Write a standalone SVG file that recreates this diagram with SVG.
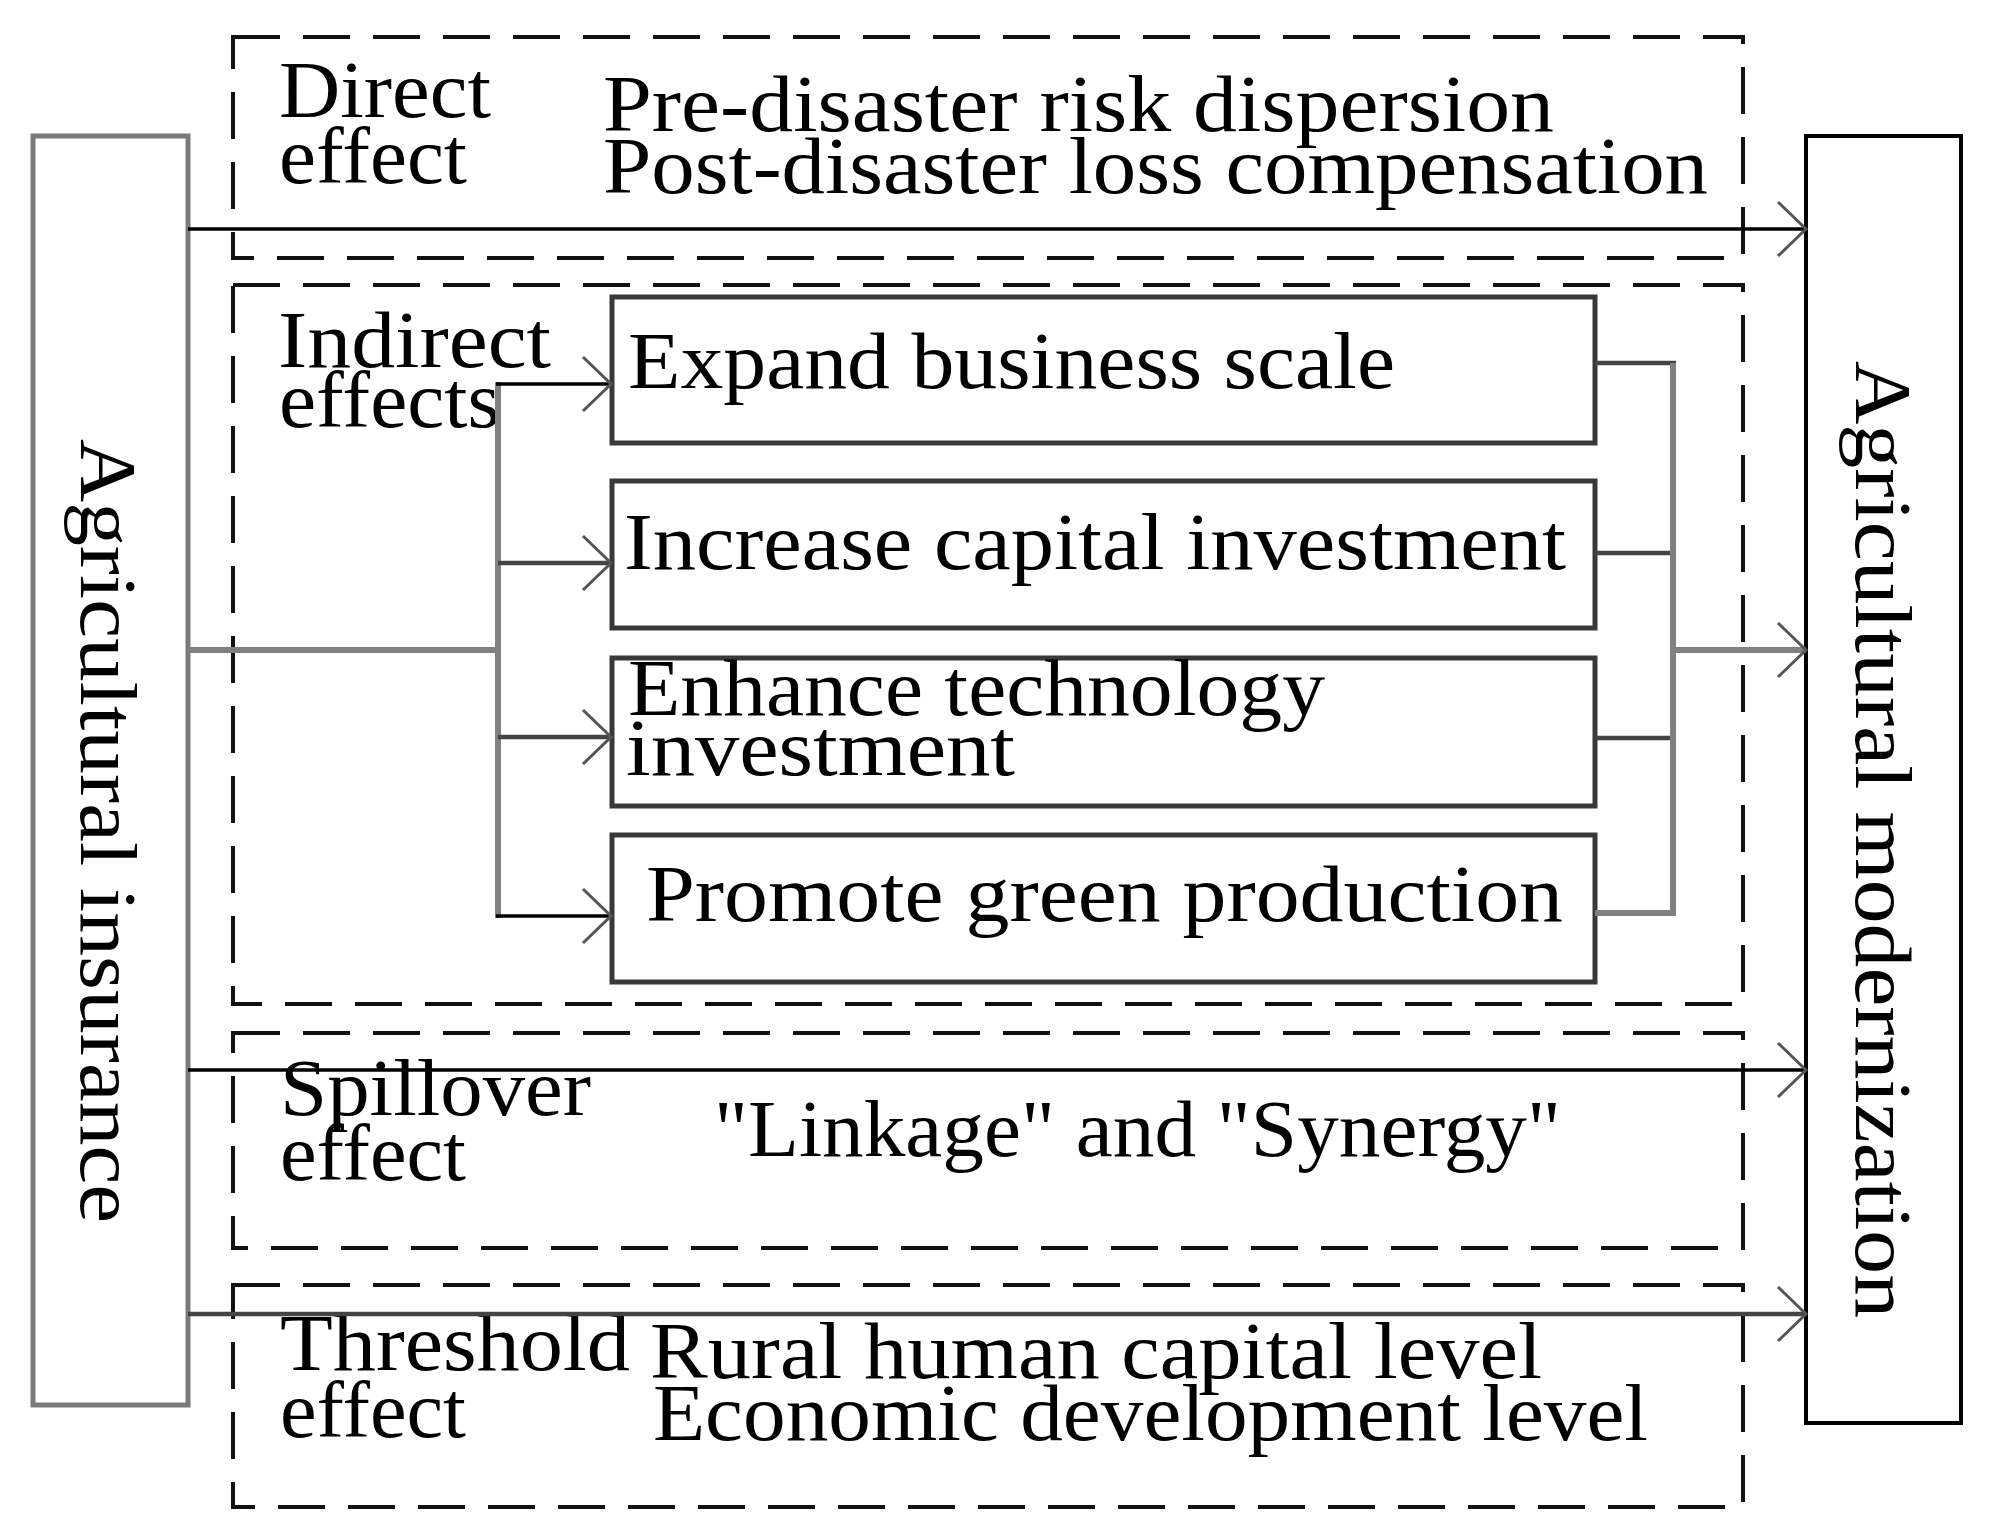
<svg xmlns="http://www.w3.org/2000/svg" width="1997" height="1540" viewBox="0 0 1997 1540">
<style>
text{font-family:"Liberation Serif","Times New Roman",serif;font-size:80px;fill:#000}
.dash{fill:none;stroke:#111;stroke-width:4;stroke-dasharray:47 23}
.inner{fill:#fff;stroke:#383838;stroke-width:5}
.k{stroke:#000;stroke-width:3.5;fill:none}
.g{stroke:#808080;stroke-width:6;fill:none}
.d{stroke:#444;stroke-width:4.5;fill:none}
</style>
<defs>
<marker id="ah" markerUnits="userSpaceOnUse" markerWidth="40" markerHeight="60" viewBox="0 0 40 60" refX="32" refY="30" orient="auto">
<path d="M4,3 L32,30 L4,57" fill="none" stroke="#555" stroke-width="3"/>
</marker>
</defs>
<rect width="1997" height="1540" fill="#fff"/>

<g id="direct-group">
<rect class="dash" x="233" y="37" width="1510" height="221"/>
<text x="279" y="117" textLength="212" lengthAdjust="spacingAndGlyphs">Direct</text>
<text x="279" y="183" textLength="188" lengthAdjust="spacingAndGlyphs">effect</text>
<text x="603" y="131" textLength="951" lengthAdjust="spacingAndGlyphs">Pre-disaster risk dispersion</text>
<text x="603" y="193" textLength="1105" lengthAdjust="spacingAndGlyphs">Post-disaster loss compensation</text>
</g>

<g id="indirect-group">
<rect class="dash" x="233" y="285" width="1510" height="719"/>
<text x="278" y="367" textLength="273" lengthAdjust="spacingAndGlyphs">Indirect</text>
<text x="279" y="427" textLength="221" lengthAdjust="spacingAndGlyphs">effects</text>
</g>

<g id="spillover-group">
<rect class="dash" x="233" y="1033" width="1510" height="215"/>
<text x="280" y="1115" textLength="311" lengthAdjust="spacingAndGlyphs">Spillover</text>
<text x="280" y="1180" textLength="186" lengthAdjust="spacingAndGlyphs">effect</text>
<text x="714" y="1156" textLength="847" lengthAdjust="spacingAndGlyphs">"Linkage" and "Synergy"</text>
</g>

<g id="threshold-group">
<rect class="dash" x="233" y="1285" width="1510" height="222"/>
<text x="280" y="1370" textLength="350" lengthAdjust="spacingAndGlyphs">Threshold</text>
<text x="280" y="1437" textLength="186" lengthAdjust="spacingAndGlyphs">effect</text>
<text x="650" y="1378" textLength="892" lengthAdjust="spacingAndGlyphs">Rural human capital level</text>
<text x="653" y="1440" textLength="995" lengthAdjust="spacingAndGlyphs">Economic development level</text>
</g>

<g id="agri-insurance">
<rect x="33" y="136" width="155" height="1269" fill="#fff" stroke="#7a7a7a" stroke-width="5"/>
<text transform="translate(81,439) rotate(90)" textLength="784" lengthAdjust="spacingAndGlyphs">Agricultural insurance</text>
</g>

<g id="agri-modernization">
<rect x="1806" y="136" width="155" height="1287" fill="#fff" stroke="#000" stroke-width="4"/>
<text transform="translate(1856,361) rotate(90)" textLength="957" lengthAdjust="spacingAndGlyphs">Agricultural modernization</text>
</g>

<g id="box-expand">
<rect class="inner" x="612" y="297" width="983" height="146"/>
<text x="628" y="388" textLength="767" lengthAdjust="spacingAndGlyphs">Expand business scale</text>
</g>
<g id="box-capital">
<rect class="inner" x="612" y="481" width="983" height="147"/>
<text x="624" y="569" textLength="942" lengthAdjust="spacingAndGlyphs">Increase capital investment</text>
</g>
<g id="box-technology">
<rect class="inner" x="612" y="658" width="983" height="148"/>
<text x="628" y="715" textLength="697" lengthAdjust="spacingAndGlyphs">Enhance technology</text>
<text x="626" y="775" textLength="389" lengthAdjust="spacingAndGlyphs">investment</text>
</g>
<g id="box-green">
<rect class="inner" x="612" y="835" width="983" height="147"/>
<text x="646" y="921" textLength="917" lengthAdjust="spacingAndGlyphs">Promote green production</text>
</g>

<g id="connectors">
<line class="k" x1="188" y1="229" x2="1806" y2="229" marker-end="url(#ah)"/>
<line class="g" x1="188" y1="650" x2="498" y2="650"/>
<line class="g" x1="498" y1="382" x2="498" y2="918" stroke-width="5"/>
<line class="k" x1="496" y1="384" x2="611" y2="384" marker-end="url(#ah)"/>
<line class="d" x1="498" y1="563" x2="611" y2="563" marker-end="url(#ah)"/>
<line class="d" x1="498" y1="737" x2="611" y2="737" marker-end="url(#ah)"/>
<line class="k" x1="496" y1="916" x2="611" y2="916" marker-end="url(#ah)"/>
<line class="d" x1="1595" y1="363" x2="1676" y2="363"/>
<line class="d" x1="1595" y1="553" x2="1673" y2="553"/>
<line class="d" x1="1595" y1="738" x2="1673" y2="738"/>
<line class="g" x1="1595" y1="913" x2="1676" y2="913"/>
<line class="g" x1="1673" y1="363" x2="1673" y2="913" stroke-width="5"/>
<line class="g" x1="1673" y1="650" x2="1806" y2="650" marker-end="url(#ah)"/>
<line class="k" x1="188" y1="1070" x2="1806" y2="1070" marker-end="url(#ah)"/>
<line class="d" x1="188" y1="1314" x2="1806" y2="1314" stroke-width="4" marker-end="url(#ah)"/>
</g>
</svg>
